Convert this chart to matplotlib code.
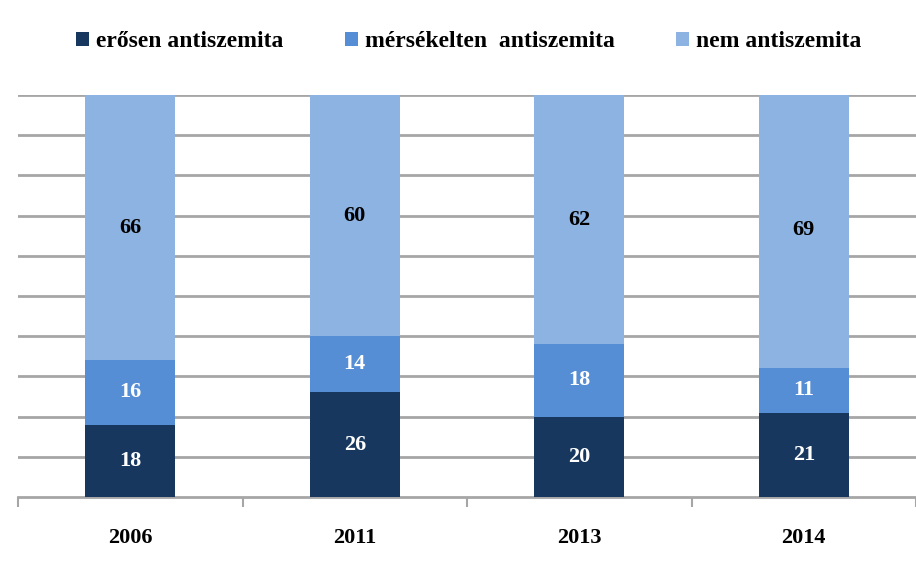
import matplotlib.pyplot as plt
from matplotlib.patches import Patch

years = ['2006', '2011', '2013', '2014']
strong = [18, 26, 20, 21]
moderate = [16, 14, 18, 11]
non = [66, 60, 62, 69]

series_names = ['erősen antiszemita', 'mérsékelten  antiszemita', 'nem antiszemita']
colors = ['#17375E', '#558ED5', '#8DB3E2']
text_colors = ['white', 'white', 'black']

plt.rcParams['font.family'] = ['Liberation Serif', 'DejaVu Serif']
plt.rcParams['font.weight'] = 'bold'

fig = plt.figure(figsize=(9.16, 5.81), dpi=100)
ax = fig.add_axes([0.0197, 0.1446, 0.9803, 0.692])

x = list(range(len(years)))
bottom = [0] * len(years)
for vals, col, tc in zip([strong, moderate, non], colors, text_colors):
    bars = ax.bar(x, vals, width=0.4, bottom=bottom, color=col, zorder=3)
    for xi, b, v in zip(x, bottom, vals):
        ax.text(xi, b + v / 2, str(v), ha='center', va='center',
                color=tc, fontsize=16, fontweight='bold', zorder=4)
    bottom = [b + v for b, v in zip(bottom, vals)]

ax.set_ylim(0, 100)
ax.set_xlim(-0.5, 3.5)
ax.set_yticks(range(10, 101, 10))
ax.yaxis.grid(True, color='#A6A6A6', linewidth=2, zorder=0)
ax.tick_params(axis='y', left=False, labelleft=False)
for s in ['left', 'right', 'top']:
    ax.spines[s].set_visible(False)
ax.spines['bottom'].set_color('#A6A6A6')
ax.spines['bottom'].set_linewidth(2)

ax.set_xticks([-0.5, 0.5, 1.5, 2.5, 3.5])
ax.set_xticks(x, minor=True)
ax.set_xticklabels([])
ax.set_xticklabels(years, minor=True)
ax.tick_params(axis='x', which='major', length=7, width=1.5, color='#A6A6A6')
ax.tick_params(axis='x', which='minor', length=0, pad=22, labelsize=16)

handles = [Patch(facecolor=c) for c in colors]
fig.legend(handles, series_names, loc='center', bbox_to_anchor=(0.512, 0.928),
           ncol=3, frameon=False, fontsize=17, handlelength=0.55, handleheight=0.55,
           handletextpad=0.3, columnspacing=2.6)

fig.savefig('out.png', dpi=100)
